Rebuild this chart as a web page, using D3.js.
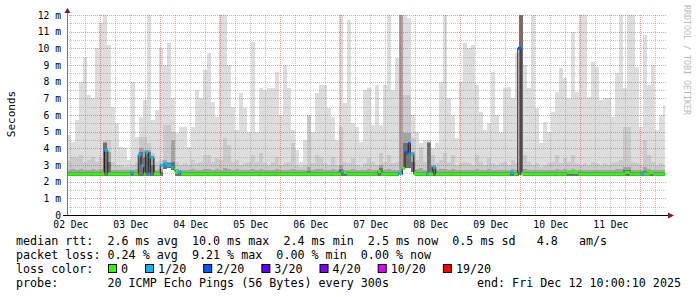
<!DOCTYPE html>
<html>
<head>
<meta charset="utf-8">
<script src="https://cdn.jsdelivr.net/npm/d3@7"></script>
<style>
body { margin: 0; background: #fff; }
svg { display: block; }
text { font-family: "DejaVu Sans Mono", monospace; white-space: pre; }
</style>
</head>
<body>
<div id="main"></div>
<script>
var WIDTH = 697, HEIGHT = 297;
var plot = {left: 67, right: 667, top: 15, bottom: 215};

// time frame of the graph (UTC), one smoke sample every 96 minutes
var startTime = Date.UTC(2025, 11, 2, 10, 40);
var graphEnd = Date.UTC(2025, 11, 12, 10, 40);
var endTime = Date.UTC(2025, 11, 12, 10, 0, 10);
var stepMinutes = 96;

// smoke: highest ping per step (ms)
var smokeMax = [
	4.8, 4.4, 5.7, 8.0, 9.5, 7.2, 7.0, 10.0, 11.5, 12,
	10.2, 6.5, 5.5, 4.1, 4.0, 3.3, 8.0, 4.7, 5.9, 6.9,
	12, 5.7, 6.3, 10.0, 9.0, 10.3, 7.0, 4.9, 5.3, 5.3,
	4.1, 5.3, 7.5, 7.0, 8.7, 9.7, 6.8, 5.9, 12, 12,
	9.0, 6.5, 5.1, 7.3, 6.4, 5.0, 10.4, 5.0, 7.6, 7.5,
	7.6, 7.6, 8.6, 6.0, 9.0, 7.6, 5.1, 3.9, 3.2, 4.5,
	6.0, 5.0, 7.3, 7.8, 7.8, 6.4, 5.9, 4.5, 12, 6.7,
	11.7, 5.5, 5.3, 4.4, 7.5, 7.6, 5.4, 7.8, 5.4, 7.8,
	12, 7.5, 9.4, 12, 12, 11.8, 6.0, 5.0, 4.3, 4.5,
	4.5, 4.0, 4.3, 8.0, 12, 7.0, 6.0, 4.6, 8.0, 10.3,
	10.0, 10.2, 7.8, 6.2, 5.1, 5.5, 8.6, 6.0, 5.0, 7.6,
	7.7, 7.0, 9.7, 12, 9.0, 7.6, 12, 6.4, 4.3, 5.6,
	5.0, 6.2, 7.4, 8.8, 8.2, 7.0, 11.0, 7.4, 12, 12,
	7.1, 9.2, 8.9, 6.9, 7.0, 7.0, 5.9, 8.5, 12, 7.6,
	12, 12, 8.9, 5.3, 10.8, 7.8, 9.0, 5.1, 6.0, 6.6
];
// smoke: upper band of the pings (ms)
var smokeHigh = [
	3.3, 3.5, 3.4, 3.6, 3.2, 3.3, 3.5, 3.2, 3.4, 4.5,
	4.5, 3.2, 3.0, 3.0, 2.9, 2.9, 3.0, 3.2, 4.7, 4.7,
	4.3, 3.7, 3.2, 3.3, 5.4, 5.4, 5.0, 3.2, 3.0, 3.1,
	3.0, 3.3, 3.1, 3.2, 3.6, 3.6, 3.2, 3.4, 3.3, 4.6,
	4.2, 3.2, 3.3, 3.0, 3.1, 3.2, 3.6, 3.2, 3.7, 3.1,
	3.0, 3.2, 3.5, 3.0, 3.1, 3.2, 4.3, 3.0, 2.9, 3.0,
	6.0, 3.1, 3.6, 3.5, 3.1, 3.0, 3.5, 3.0, 5.3, 3.2,
	3.1, 3.4, 3.0, 2.9, 3.1, 3.4, 3.2, 3.0, 3.7, 3.2,
	3.6, 3.1, 3.2, 12, 7.2, 7.2, 4.6, 3.3, 4.1, 3.2,
	4.4, 3.6, 3.1, 3.3, 3.7, 3.2, 3.6, 3.0, 3.1, 3.2,
	3.1, 3.0, 3.6, 3.2, 3.0, 3.4, 3.1, 3.0, 3.1, 3.2,
	3.0, 3.3, 3.1, 12, 3.6, 3.2, 3.0, 3.1, 2.9, 3.0,
	3.1, 3.2, 3.6, 3.1, 3.4, 3.2, 3.6, 3.1, 3.0, 3.1,
	3.0, 3.2, 3.1, 3.0, 3.1, 3.0, 3.1, 3.2, 3.3, 5.3,
	5.3, 3.2, 3.1, 3.0, 4.5, 3.6, 3.2, 3.0, 3.1, 3.0
];
// smoke: inner band (ms)
var smokeCore = [
	2.72, 2.75, 2.72, 2.78, 2.70, 2.72, 2.75, 2.70, 2.74, 4.4,
	3.8, 2.72, 2.70, 2.70, 2.68, 2.68, 2.70, 2.74, 4.0, 3.9,
	3.9, 3.4, 2.72, 2.74, 3.3, 3.2, 4.5, 2.74, 2.70, 2.72,
	2.70, 2.74, 2.70, 2.72, 2.76, 2.76, 2.72, 2.74, 2.72, 2.8,
	2.78, 2.72, 2.74, 2.70, 2.72, 2.72, 2.76, 2.72, 2.76, 2.70,
	2.70, 2.72, 2.74, 2.70, 2.72, 2.72, 2.78, 2.70, 2.68, 2.70,
	2.9, 2.72, 2.76, 2.74, 2.72, 2.70, 2.74, 2.70, 3.0, 2.72,
	2.70, 2.74, 2.70, 2.68, 2.72, 2.74, 2.72, 2.70, 3.0, 2.72,
	2.76, 2.72, 2.72, 12, 4.9, 4.9, 3.8, 2.74, 2.8, 2.72,
	4.4, 3.0, 2.72, 2.74, 2.78, 2.72, 2.76, 2.70, 2.72, 2.72,
	2.72, 2.70, 2.76, 2.72, 2.70, 2.74, 2.72, 2.70, 2.72, 2.72,
	2.70, 2.74, 2.72, 12, 2.76, 2.72, 2.70, 2.72, 2.68, 2.70,
	2.72, 2.72, 2.76, 2.72, 2.74, 2.72, 2.76, 2.72, 2.70, 2.72,
	2.70, 2.72, 2.72, 2.70, 2.72, 2.70, 2.72, 2.74, 2.74, 2.9,
	2.9, 2.72, 2.72, 2.70, 2.9, 2.76, 2.72, 2.70, 2.72, 2.70
];
// smoke: pings next to the median (ms)
var smokeDeep = [
	2.58, 2.58, 2.58, 2.6, 2.58, 2.58, 2.6, 2.58, 2.58, 4.3,
	3.2, 2.58, 2.58, 2.58, 2.58, 2.58, 2.58, 2.58, 3.8, 3.5,
	3.8, 3.0, 2.58, 2.58, 3.1, 3.1, 3.2, 2.6, 2.58, 2.58,
	2.58, 2.58, 2.58, 2.58, 2.6, 2.6, 2.58, 2.58, 2.58, 2.6,
	2.6, 2.58, 2.58, 2.58, 2.58, 2.58, 2.6, 2.58, 2.6, 2.58,
	2.58, 2.58, 2.58, 2.58, 2.58, 2.58, 2.6, 2.58, 2.58, 2.58,
	2.62, 2.58, 2.6, 2.58, 2.58, 2.58, 2.58, 2.58, 2.75, 2.58,
	2.58, 2.58, 2.58, 2.58, 2.58, 2.6, 2.58, 2.58, 2.8, 2.58,
	2.6, 2.58, 2.58, 2.6, 4.3, 4.3, 3.2, 2.58, 2.6, 2.58,
	4.3, 2.9, 2.58, 2.58, 2.6, 2.58, 2.6, 2.58, 2.58, 2.58,
	2.58, 2.58, 2.6, 2.58, 2.58, 2.58, 2.58, 2.58, 2.58, 2.58,
	2.58, 2.58, 2.6, 12, 2.6, 2.58, 2.58, 2.58, 2.58, 2.58,
	2.58, 2.58, 2.6, 2.58, 2.6, 2.6, 2.6, 2.58, 2.58, 2.58,
	2.58, 2.58, 2.58, 2.58, 2.58, 2.58, 2.6, 2.6, 2.6, 2.7,
	2.7, 2.58, 2.58, 2.6, 2.65, 2.6, 2.6, 2.58, 2.58, 2.58
];
// smoke: lowest ping per step (ms)
var smokeMin = [
	2.33, 2.33, 2.33, 2.33, 2.33, 2.33, 2.33, 2.33, 2.33, 2.35,
	2.35, 2.33, 2.33, 2.33, 2.33, 2.33, 2.33, 2.33, 2.35, 2.35,
	2.35, 2.33, 2.33, 2.33, 2.75, 2.8, 2.7, 2.35, 2.33, 2.33,
	2.33, 2.33, 2.33, 2.33, 2.33, 2.33, 2.33, 2.33, 2.33, 2.33,
	2.33, 2.33, 2.33, 2.33, 2.33, 2.33, 2.33, 2.33, 2.33, 2.33,
	2.33, 2.33, 2.33, 2.33, 2.33, 2.33, 2.33, 2.33, 2.33, 2.33,
	2.33, 2.33, 2.33, 2.33, 2.33, 2.33, 2.33, 2.33, 2.33, 2.33,
	2.33, 2.33, 2.33, 2.33, 2.33, 2.33, 2.33, 2.33, 2.33, 2.33,
	2.33, 2.33, 2.33, 2.40, 2.8, 2.8, 2.6, 2.33, 2.33, 2.33,
	2.33, 2.33, 2.33, 2.33, 2.33, 2.33, 2.33, 2.33, 2.33, 2.33,
	2.33, 2.33, 2.33, 2.33, 2.33, 2.33, 2.33, 2.33, 2.33, 2.33,
	2.33, 2.33, 2.33, 2.40, 2.33, 2.33, 2.33, 2.33, 2.33, 2.33,
	2.33, 2.33, 2.33, 2.33, 2.33, 2.33, 2.33, 2.33, 2.33, 2.33,
	2.33, 2.33, 2.33, 2.33, 2.33, 2.33, 2.33, 2.33, 2.33, 2.33,
	2.33, 2.33, 2.33, 2.33, 2.33, 2.33, 2.33, 2.33, 2.33, 2.33
];

// median rtt: hours after start where it changes, new value (ms), lost pings of 20
var medianHours = [
	0, 15.0, 16.3, 25.5, 26.5, 28.5, 29.6, 30.7, 31.5, 32.5,
	33.3, 34.7, 37.3, 38.7, 40.0, 41.6, 42.7, 43.2, 44.3, 45.6,
	109.6, 110.7, 112.0, 124.3, 125.6, 132.5, 133.6, 134.1, 135.2, 136.5,
	137.3, 138.7, 143.7, 144.5, 146.4, 147.5, 177.3, 178.7, 180.3, 181.6,
	199.9, 204.5, 223.2, 225.2, 229.5, 230.8, 233.2, 234.4
];
var medianValues = [
	2.46, 3.88, 2.46, 2.58, 2.46, 3.60, 2.95, 2.46, 3.76, 2.46,
	3.46, 2.46, 2.98, 3.08, 2.98, 2.85, 2.70, 2.55, 2.60, 2.46,
	2.62, 2.55, 2.46, 2.60, 2.46, 2.50, 2.46, 2.80, 3.76, 4.30,
	3.66, 2.46, 2.46, 2.46, 2.86, 2.46, 2.56, 2.46, 10.0, 2.46,
	2.55, 2.46, 2.55, 2.46, 2.46, 2.46, 2.55, 2.46
];
var medianLoss = [
	0, 1, 0, 1, 0, 1, 1, 0, 1, 1,
	1, 0, 1, 1, 1, 1, 0, 0, 1, 0,
	1, 0, 0, 0, 0, 1, 0, 0, 2, 2,
	1, 0, 1, 0, 1, 0, 1, 0, 2, 0,
	0, 0, 0, 0, 1, 0, 0, 0
];

var yTicks = [0, 1, 2, 3, 4, 5, 6, 7, 8, 9, 10, 11, 12];
var dayLabels = ["02 Dec", "03 Dec", "04 Dec", "05 Dec", "06 Dec", "07 Dec", "08 Dec", "09 Dec", "10 Dec", "11 Dec"];

var lossSteps = [0, 1, 2, 3, 4, 10, 19];
var lossLabels = ["0", "1/20", "2/20", "3/20", "4/20", "10/20", "19/20"];
var lossColors = ["#26ff00", "#00b8ff", "#0059ff", "#5e00ff", "#7e00ff", "#dd00ff", "#ff0000"];

var legendLines = [
	"median rtt:  2.6 ms avg  10.0 ms max  2.4 ms min  2.5 ms now  0.5 ms sd   4.8   am/s",
	"packet loss: 0.24 % avg  9.21 % max  0.00 % min  0.00 % now"
];
var probeText = "probe:       20 ICMP Echo Pings (56 Bytes) every 300s";
var endText = "end: Fri Dec 12 10:00:10 2025";

var canvas, x, y;

function createCanvas() {
	canvas = d3.select("#main").append("svg")
		.attr("id", "canvas")
		.attr("width", WIDTH)
		.attr("height", HEIGHT);
	canvas.append("rect")
		.attr("width", WIDTH)
		.attr("height", HEIGHT)
		.attr("fill", "#fff");

	x = d3.scaleUtc().domain([startTime, graphEnd]).range([plot.left, plot.right]);
	y = d3.scaleLinear().domain([0, 12]).range([plot.bottom, plot.top]);
}

function lossColor(n) {
	var c = lossColors[0];
	lossSteps.forEach(function(s, i) { if (n >= s) c = lossColors[i]; });
	return c;
}

function drawSmoke() {
	var rows = smokeMax.map(function(v, i) {
		return {t: startTime + i * stepMinutes * 60000, max: v, high: smokeHigh[i],
			core: smokeCore[i], deep: smokeDeep[i], min: smokeMin[i]};
	});
	var last = rows[rows.length - 1];
	rows.push(Object.assign({}, last, {t: endTime}));

	var layers = [["max", "#dddddd"], ["high", "#cacaca"], ["core", "#a4a4a4"], ["deep", "#707070"]];
	layers.forEach(function(l) {
		var area = d3.area()
			.curve(d3.curveStepAfter)
			.x(function(d) { return x(d.t); })
			.y0(function(d) { return y(d.min); })
			.y1(function(d) { return y(d[l[0]]); });
		canvas.append("path")
			.datum(rows)
			.attr("d", area)
			.attr("fill", l[1])
			.attr("shape-rendering", "crispEdges");
	});
}

function drawGrid() {
	var g = canvas.append("g").attr("class", "grid");
	var hours = d3.utcHour.every(6).range(new Date(startTime), new Date(graphEnd));
	var halfs = d3.range(0.5, 12, 1);

	g.selectAll("line.vminor").data(hours.filter(function(d) { return d.getUTCHours() != 0; }))
		.enter().append("line")
			.attr("x1", function(d) { return Math.round(x(d)) + 0.5; })
			.attr("x2", function(d) { return Math.round(x(d)) + 0.5; })
			.attr("y1", plot.top).attr("y2", plot.bottom)
			.attr("stroke", "rgba(150,150,150,0.55)")
			.attr("stroke-dasharray", "1,1");
	g.selectAll("line.hminor").data(halfs)
		.enter().append("line")
			.attr("x1", plot.left).attr("x2", plot.right)
			.attr("y1", function(d) { return Math.round(y(d)) + 0.5; })
			.attr("y2", function(d) { return Math.round(y(d)) + 0.5; })
			.attr("stroke", "rgba(150,150,150,0.55)")
			.attr("stroke-dasharray", "1,1");
	g.selectAll("line.vmajor").data(hours.filter(function(d) { return d.getUTCHours() == 0; }))
		.enter().append("line")
			.attr("x1", function(d) { return Math.round(x(d)) + 0.5; })
			.attr("x2", function(d) { return Math.round(x(d)) + 0.5; })
			.attr("y1", plot.top).attr("y2", plot.bottom)
			.attr("stroke", "rgba(215,60,60,0.5)")
			.attr("stroke-dasharray", "1,1");
	g.selectAll("line.hmajor").data(yTicks.slice(1))
		.enter().append("line")
			.attr("x1", plot.left).attr("x2", plot.right)
			.attr("y1", function(d) { return Math.round(y(d)) + 0.5; })
			.attr("y2", function(d) { return Math.round(y(d)) + 0.5; })
			.attr("stroke", "rgba(215,60,60,0.5)")
			.attr("stroke-dasharray", "1,1");
}

function drawMedian() {
	var pts = medianHours.map(function(h, i) {
		return {t: startTime + h * 3600000, v: medianValues[i], loss: medianLoss[i]};
	});
	pts.push({t: endTime, v: pts[pts.length - 1].v, loss: pts[pts.length - 1].loss});

	var line = d3.line()
		.curve(d3.curveStepAfter)
		.x(function(d) { return x(d.t); })
		.y(function(d) { return y(d.v); });

	canvas.append("path")
		.datum(pts)
		.attr("d", line)
		.attr("fill", "none")
		.attr("stroke", "#202020")
		.attr("stroke-width", 1);

	// each step drawn flat and thick in the colour of its loss
	var segs = pts.slice(0, -1).map(function(p, i) {
		return {t0: p.t, t1: pts[i + 1].t, v: p.v, loss: p.loss};
	});
	canvas.append("g").selectAll("line").data(segs)
		.enter().append("line")
			.attr("x1", function(d) { return x(d.t0); })
			.attr("x2", function(d) { return x(d.t1); })
			.attr("y1", function(d) { return y(d.v); })
			.attr("y2", function(d) { return y(d.v); })
			.attr("stroke", function(d) { return lossColor(d.loss); })
			.attr("stroke-width", 3);
}

function drawAxes() {
	var yAxis = d3.axisLeft(y)
		.tickValues(yTicks)
		.tickSize(0)
		.tickPadding(6)
		.tickFormat(function(d) { return d == 0 ? "0" : d + " m"; });
	var ya = canvas.append("g")
		.attr("transform", "translate(" + plot.left + ",0)")
		.call(yAxis);
	ya.select(".domain").remove();
	ya.selectAll("text")
		.attr("font-family", "DejaVu Sans Mono")
		.attr("font-size", "9.7px")
		.attr("fill", "#000");

	var noons = dayLabels.map(function(d, i) { return new Date(Date.UTC(2025, 11, 2 + i, 12)); });
	var xAxis = d3.axisBottom(x)
		.tickValues(noons)
		.tickSize(0)
		.tickPadding(6)
		.tickFormat(function(d, i) { return dayLabels[i]; });
	var xa = canvas.append("g")
		.attr("transform", "translate(0," + plot.bottom + ")")
		.call(xAxis);
	xa.select(".domain").remove();
	xa.selectAll("text")
		.attr("font-family", "DejaVu Sans Mono")
		.attr("font-size", "9.7px")
		.attr("fill", "#000");

	canvas.append("line")
		.attr("x1", plot.left + 0.5).attr("x2", plot.left + 0.5)
		.attr("y1", plot.bottom).attr("y2", 10)
		.attr("stroke", "#777");
	canvas.append("line")
		.attr("x1", plot.left - 4).attr("x2", 669)
		.attr("y1", plot.bottom + 0.5).attr("y2", plot.bottom + 0.5)
		.attr("stroke", "#000");
	canvas.append("path")
		.attr("d", "M" + (plot.left - 2.5) + ",13 L" + (plot.left + 3.5) + ",13 L" + (plot.left + 0.5) + ",8 Z")
		.attr("fill", "#8b1a1a");
	canvas.append("path")
		.attr("d", "M668," + (plot.bottom - 2.5) + " L668," + (plot.bottom + 3.5) + " L674," + (plot.bottom + 0.5) + " Z")
		.attr("fill", "#8b1a1a");

	canvas.append("text")
		.attr("transform", "translate(14.5," + 114 + ") rotate(-90)")
		.attr("text-anchor", "middle")
		.attr("font-family", "DejaVu Sans")
		.attr("font-size", "11px")
		.text("Seconds");

	canvas.append("text")
		.attr("transform", "translate(684,60) rotate(90)")
		.attr("text-anchor", "middle")
		.attr("font-size", "8.3px")
		.attr("fill", "#bbbbbb")
		.text("RRDTOOL / TOBI OETIKER");
}

function drawLegend() {
	var fs = "11.7px", left = 16, cw = 7.04;
	legendLines.forEach(function(s, i) {
		canvas.append("text")
			.attr("x", left).attr("y", 244.5 + i * 14)
			.attr("font-size", fs)
			.text(s);
	});
	canvas.append("text")
		.attr("x", left).attr("y", 272.5)
		.attr("font-size", fs)
		.text("loss color:");
	var bx = 108;
	lossLabels.forEach(function(l, i) {
		canvas.append("rect")
			.attr("x", bx + 0.5).attr("y", 264.5)
			.attr("width", 8).attr("height", 8)
			.attr("fill", lossColors[i])
			.attr("stroke", "#000");
		canvas.append("text")
			.attr("x", bx + 13).attr("y", 272.5)
			.attr("font-size", fs)
			.text(l);
		bx = bx + 13 + l.length * cw + 17;
	});
	canvas.append("text")
		.attr("x", left).attr("y", 286.5)
		.attr("font-size", fs)
		.text(probeText);
	canvas.append("text")
		.attr("x", 681).attr("y", 286.5)
		.attr("text-anchor", "end")
		.attr("font-size", fs)
		.text(endText);
}

createCanvas();
drawSmoke();
drawGrid();
drawMedian();
drawAxes();
drawLegend();
</script>
</body>
</html>
